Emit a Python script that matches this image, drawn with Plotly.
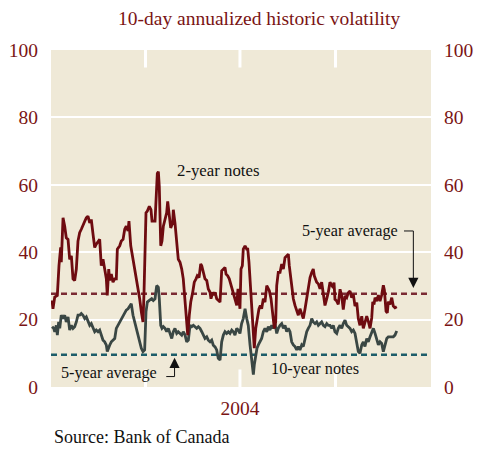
import pandas as pd
import plotly.graph_objects as go

# ---- data (day-of-year offsets in 2004, volatility in %) ----
days_2y = [1.0, 1.9, 3.6, 6.1, 7.7, 9.3, 9.9, 11.6, 13.2, 14.7, 16.4, 18.0, 19.6, 21.2, 22.8, 24.4,
           26.0, 27.6, 29.2, 30.8, 32.5, 34.0, 35.6, 37.3, 38.8, 40.5, 42.1, 43.6, 45.3, 46.9, 48.4,
           50.1, 51.7, 53.3, 54.2, 55.6, 56.5, 58.1, 59.7, 61.4, 62.9, 63.9, 66.2, 67.7, 69.4, 71.0,
           72.5, 74.2, 75.1, 76.8, 79.0, 80.6, 82.2, 83.8, 85.4, 87.0, 88.6, 89.6, 91.5, 92.8, 94.7,
           96.3, 97.3, 100.2, 101.1, 102.4, 103.4, 104.3, 105.7, 106.9, 108.2, 109.8, 111.4, 112.4,
           113.9, 115.3, 117.2, 117.8, 119.4, 121.1, 122.6, 124.3, 125.9, 127.4, 128.4, 129.7, 130.7,
           131.7, 133.2, 134.6, 136.5, 138.0, 139.7, 140.9, 142.6, 144.2, 145.2, 146.7, 148.3, 150.0,
           151.5, 153.2, 154.1, 155.8, 157.0, 158.0, 159.6, 161.1, 162.8, 164.4, 166.0, 167.6, 168.6,
           170.2, 171.7, 173.1, 174.6, 175.6, 177.2, 178.9, 180.1, 182.0, 183.0, 184.3, 185.2, 186.9,
           188.5, 189.5, 190.7, 191.7, 193.3, 194.9, 195.8, 197.2, 199.1, 200.3, 201.6, 202.9, 204.5,
           206.1, 207.8, 209.3, 210.3, 211.9, 213.2, 215.1, 216.4, 217.4, 218.9, 220.6, 222.2, 223.8,
           225.4, 227.0, 228.6, 229.5, 230.5, 231.8, 233.4, 235.0, 236.7, 238.2, 239.8, 241.5, 243.0,
           244.7, 246.3, 247.8, 249.5, 251.1, 252.6, 253.6, 255.0, 255.9, 257.5, 259.1, 260.7, 262.3,
           263.9, 265.6, 267.1, 268.7, 270.4, 271.9, 272.6, 273.5, 275.2, 276.7, 278.4, 280.0, 281.5,
           283.2, 284.8, 286.4, 288.0, 289.6, 291.2, 292.8, 294.5, 296.0, 297.6, 299.3, 300.8, 302.4,
           304.1, 305.6, 307.3, 308.9, 309.9, 311.1, 312.1, 313.7, 315.3, 316.9, 318.5, 320.1, 321.1,
           322.7, 323.9, 324.9, 326.5, 328.2, 329.7, 331.3, 333.0]
vol_2y = [25.7, 23.2, 26.7, 27.2, 36.0, 41.4, 37.0, 50.2, 47.7, 44.3, 43.8, 37.9, 38.9, 32.1, 31.6, 35.0,
          43.3, 45.8, 46.8, 48.2, 49.2, 50.2, 50.7, 48.7, 49.7, 45.3, 41.4, 42.4, 43.3, 43.8, 36.0,
          37.9, 35.0, 32.1, 27.2, 35.0, 31.6, 33.5, 31.1, 32.1, 32.1, 40.9, 41.9, 43.3, 43.8, 46.8,
          47.7, 46.3, 49.2, 41.9, 37.9, 35.0, 32.1, 30.1, 26.2, 22.3, 19.3, 28.1, 51.7, 52.2, 53.6,
          52.6, 49.2, 49.2, 54.6, 63.4, 63.9, 59.5, 41.9, 43.3, 47.7, 49.7, 51.7, 55.1,
          51.7, 47.2, 48.7, 52.6, 48.7, 42.8, 37.9, 37.0, 35.0, 32.1, 28.1, 24.2, 19.3,
          15.4, 21.3, 25.2, 28.1, 31.1, 32.1, 33.0, 32.5, 36.5, 36.0, 34.0, 32.1, 31.6,
          29.1, 28.1, 26.2, 28.1, 27.2, 28.1, 26.2, 25.7, 25.2, 34.5, 35.0, 35.5, 33.5,
          33.0, 32.1, 30.6, 29.1, 28.1, 26.2, 24.2, 29.1, 23.2, 35.0, 36.0, 40.9, 41.9,
          40.9, 40.9, 37.0, 32.1, 24.2, 16.4, 11.5, 17.4, 21.3, 23.2, 24.2, 23.2, 26.2,
          25.2, 30.1, 29.1, 28.6, 26.2, 23.2, 17.4, 19.3, 30.1, 34.0, 34.0, 36.5, 35.0,
          38.4, 38.9, 39.4, 36.0, 33.0, 30.1, 26.2, 24.2, 22.3, 21.3, 23.2, 21.3, 20.3,
          23.2, 26.2, 30.1, 32.5, 34.0, 35.0, 33.0, 32.1, 31.1, 30.6, 29.1, 31.1, 28.1,
          24.2, 26.2, 28.1, 31.1, 30.0, 29.4, 31.0, 26.0, 25.5, 24.5, 29.0, 27.0, 23.0,
          27.0, 26.5, 28.0, 28.5, 26.5, 27.5, 24.0, 25.0, 20.3, 18.3, 21.0, 17.4, 19.5,
          21.0, 19.5, 17.4, 20.5, 25.3, 24.5, 26.5, 25.5, 27.3, 25.5, 27.3, 30.2, 28.8,
          22.5, 22.0, 25.3, 24.5, 26.5, 24.0, 23.5, 23.8]

days_10y = [1.0, 2.6, 3.6, 5.1, 6.1, 7.4, 8.4, 9.9, 11.6, 13.2, 14.7, 16.4, 18.0, 19.6, 21.2, 22.8,
            24.4, 26.0, 27.6, 29.2, 30.8, 32.5, 34.0, 35.6, 37.3, 38.8, 40.5, 42.1, 43.6, 45.3, 46.9,
            48.4, 50.1, 51.7, 53.3, 54.2, 55.6, 56.5, 58.1, 59.7, 61.4, 62.9, 64.5, 66.2, 67.7, 69.4,
            71.0, 72.5, 74.2, 75.8, 77.3, 79.0, 80.6, 82.2, 83.8, 85.4, 87.0, 88.6, 90.2, 91.5, 92.8,
            94.7, 97.0, 98.5, 100.2, 101.8, 103.4, 104.3, 105.7, 106.9, 108.2, 109.8, 111.4, 113.0,
            114.6, 116.3, 117.8, 119.4, 121.1, 122.6, 124.3, 125.9, 127.4, 129.1, 130.7, 132.3, 133.9,
            135.5, 137.1, 138.7, 140.3, 141.9, 143.5, 145.2, 146.7, 148.3, 150.0, 151.5, 153.2, 154.8,
            156.3, 158.0, 159.6, 161.1, 162.8, 164.4, 166.0, 167.6, 169.2, 170.8, 172.4, 174.1, 175.6,
            177.2, 178.9, 180.4, 182.0, 183.6, 185.2, 186.9, 188.5, 190.0, 191.7, 193.3, 194.9, 195.8,
            197.2, 198.4, 199.7, 201.3, 202.9, 204.5, 206.1, 207.8, 209.3, 210.9, 212.6, 214.1, 215.8,
            217.4, 218.9, 220.6, 222.2, 223.8, 225.4, 227.0, 228.6, 230.2, 231.8, 233.4, 235.0, 236.7,
            238.2, 239.8, 241.5, 243.0, 244.7, 246.3, 247.8, 249.5, 251.1, 252.6, 254.3, 255.9, 257.5,
            259.1, 260.7, 262.3, 263.9, 265.6, 267.1, 268.7, 270.4, 271.9, 273.5, 275.2, 276.7, 278.4,
            280.0, 281.5, 283.2, 284.8, 286.4, 288.0, 289.6, 291.2, 292.8, 294.5, 296.0, 297.6, 299.3,
            300.8, 302.4, 304.1, 305.6, 307.3, 308.9, 310.5, 312.1, 313.7, 315.3, 316.9, 318.5, 320.1,
            321.7, 323.4, 324.9, 326.5, 328.2, 329.7, 331.3, 333.0]
vol_10y = [17.9, 17.4, 16.4, 18.3, 15.4, 19.3, 17.4, 21.3, 20.3, 21.3, 19.3, 20.8, 16.9, 18.3, 17.4, 17.9,
           19.3, 21.3, 21.3, 21.8, 21.3, 20.3, 20.8, 19.3, 18.3, 18.8, 17.4, 16.4, 16.9, 16.4, 16.9,
           15.4, 13.9, 13.4, 12.4, 10.5, 11.9, 12.4, 13.4, 13.9, 14.4, 17.4, 18.3, 19.3, 20.3, 21.3,
           22.3, 22.8, 23.2, 24.2, 24.7, 21.3, 19.3, 17.4, 15.4, 13.9, 11.5, 10.5, 11.0, 22.3, 25.2,
           25.7, 26.2, 25.7, 26.2, 30.1, 29.6, 26.2, 18.3, 17.4, 17.9, 17.4, 16.4, 17.4,
           15.9, 14.4, 16.4, 17.4, 15.9, 16.4, 15.9, 15.4, 16.4, 15.4, 13.4, 13.9, 18.3,
           17.9, 18.3, 17.9, 17.4, 17.9, 17.4, 16.4, 15.4, 14.4, 14.9, 13.9, 13.4, 13.9,
           12.4, 11.9, 11.0, 8.5, 8.0, 13.4, 15.4, 16.4, 15.9, 16.4, 15.9, 16.9, 16.4,
           15.4, 17.4, 16.9, 15.9, 18.8, 20.3, 23.2, 20.3, 18.3, 12.5, 8.5, 3.7, 6.6,
           9.5, 11.5, 12.5, 13.4, 14.4, 16.4, 17.4, 16.4, 17.9, 16.9, 18.3, 17.4, 18.8,
           15.9, 17.4, 18.3, 18.8, 17.4, 18.3, 16.4, 17.4, 16.4, 13.4, 12.5, 12.0, 11.0,
           12.0, 11.0, 12.5, 12.0, 14.4, 16.4, 17.4, 18.3, 20.3, 19.3, 18.8, 19.3, 18.3,
           18.8, 19.3, 18.3, 17.9, 18.8, 18.3, 18.3, 17.4, 18.3, 16.4, 15.9, 17.4, 18.3,
           17.4, 18.8, 19.8, 18.3, 17.9, 17.4, 16.4, 16.9, 15.9, 13.4, 10.5, 10.0, 12.5,
           13.4, 12.0, 14.4, 13.4, 14.9, 16.4, 17.4, 15.9, 13.9, 12.5, 13.4, 12.9, 10.5,
           12.5, 14.4, 14.9, 14.9, 14.9, 14.9, 15.4, 16.6]

avg_2y = 27.7
avg_10y = 9.6
y_ticks = [0, 20, 40, 60, 80, 100]
quarter_starts = ["2004-04-01", "2004-07-01", "2004-10-01"]

base = pd.Timestamp("2004-01-01")
x2 = base + pd.to_timedelta(days_2y, unit="D")
x10 = base + pd.to_timedelta(days_10y, unit="D")

RED = "#6e0b10"
GREY = "#3a4744"
TICK_RED = "#7a1414"
BG = "#efe9d7"
TXT = "#111111"
FONT = "Liberation Serif"

fig = go.Figure()
x_lo, x_hi = "2004-01-01", "2005-01-01"

# 5-year average dashed lines
fig.add_trace(go.Scatter(x=[x_lo, x_hi], y=[avg_2y, avg_2y], mode="lines",
                         line=dict(color="#7a2a33", width=2.5, dash="6px,4px"),
                         hoverinfo="skip", showlegend=False))
fig.add_trace(go.Scatter(x=[x_lo, x_hi], y=[avg_10y, avg_10y], mode="lines",
                         line=dict(color="#1d5d69", width=2.5, dash="6px,4px"),
                         hoverinfo="skip", showlegend=False))
# series
fig.add_trace(go.Scatter(x=x10, y=vol_10y, mode="lines", name="10-year notes",
                         line=dict(color=GREY, width=2.8), showlegend=False))
fig.add_trace(go.Scatter(x=x2, y=vol_2y, mode="lines", name="2-year notes",
                         line=dict(color=RED, width=2.8), showlegend=False))
# dummy for right axis
fig.add_trace(go.Scatter(x=[x_lo], y=[0], yaxis="y2", mode="markers",
                         marker=dict(opacity=0), hoverinfo="skip", showlegend=False))

shapes = []
for q in quarter_starts:
    shapes.append(dict(type="line", xref="x", yref="y", x0=q, x1=q, y0=100, y1=94.8,
                       line=dict(color="white", width=3), layer="above"))
    shapes.append(dict(type="line", xref="x", yref="y", x0=q, x1=q, y0=0, y1=5.2,
                       line=dict(color="white", width=3), layer="below"))

annotations = [
    dict(text="10-day annualized historic volatility", xref="paper", yref="paper",
         x=0.547, y=1.0, yshift=31.5, xanchor="center", yanchor="middle", showarrow=False,
         font=dict(family=FONT, size=19.5, color=TICK_RED)),
    dict(text="Source: Bank of Canada", xref="paper", yref="paper", x=0.003, y=0.0,
         yshift=-49.5, xanchor="left", yanchor="middle", showarrow=False,
         font=dict(family=FONT, size=18, color=TXT)),
    dict(text="2-year notes", xref="x", yref="y", x="2004-04-29", y=64.3,
         xanchor="left", yanchor="middle", showarrow=False,
         font=dict(family=FONT, size=16.8, color=TXT)),
    dict(text="10-year notes", xref="x", yref="y", x="2004-07-29", y=5.5,
         xanchor="left", yanchor="middle", showarrow=False,
         font=dict(family=FONT, size=16.3, color=TXT)),
    dict(text="5-year average", xref="x", yref="y", x="2004-12-02", y=46.3,
         xanchor="right", yanchor="middle", showarrow=False,
         font=dict(family=FONT, size=16.2, color=TXT)),
    dict(text="5-year average", xref="x", yref="y", x="2004-04-14", y=4.3,
         xanchor="right", yanchor="middle", showarrow=False,
         font=dict(family=FONT, size=16.2, color=TXT)),
]

# connector lines for the 5-year average labels
shapes += [
    dict(type="line", xref="x", yref="y", x0="2004-12-06", x1="2004-12-15", y0=46.3, y1=46.3,
         line=dict(color=TXT, width=1)),
    dict(type="line", xref="x", yref="y", x0="2004-12-15", x1="2004-12-15", y0=46.3, y1=31.5,
         line=dict(color=TXT, width=1)),
    dict(type="line", xref="x", yref="y", x0="2004-04-21", x1="2004-04-29", y0=3.1, y1=3.1,
         line=dict(color=TXT, width=1)),
    dict(type="line", xref="x", yref="y", x0="2004-04-29", x1="2004-04-29", y0=3.1, y1=6.3,
         line=dict(color=TXT, width=1)),
]
# arrowheads
annotations += [
    dict(x="2004-12-15", y=29.4, ax=0, ay=-10, xref="x", yref="y", axref="pixel", ayref="pixel",
         text="", showarrow=True, arrowhead=2, arrowsize=1.7, arrowwidth=1.2, arrowcolor=TXT),
    dict(x="2004-04-29", y=8.7, ax=0, ay=9, xref="x", yref="y", axref="pixel", ayref="pixel",
         text="", showarrow=True, arrowhead=2, arrowsize=1.7, arrowwidth=1.2, arrowcolor=TXT),
]

tickfont = dict(family=FONT, size=19.5, color=TICK_RED)
fig.update_layout(
    width=477, height=458,
    margin=dict(l=51, r=46, t=49.5, b=70.5, autoexpand=False),
    paper_bgcolor="white", plot_bgcolor=BG,
    showlegend=False,
    xaxis=dict(type="date", range=[x_lo, x_hi], showgrid=False, zeroline=False,
               tickmode="array", tickvals=["2004-07-01"], ticktext=["2004"],
               ticks="outside", ticklen=4, tickcolor="rgba(0,0,0,0)",
               tickfont=tickfont, showline=False, automargin=False),
    yaxis=dict(range=[0, 100], tickmode="array", tickvals=y_ticks,
               showgrid=True, gridcolor="white", gridwidth=2, zeroline=False,
               ticks="outside", ticklen=8, tickcolor="rgba(0,0,0,0)",
               tickfont=tickfont, showline=False, automargin=False),
    yaxis2=dict(range=[0, 100], overlaying="y", side="right", tickmode="array",
                tickvals=y_ticks, showgrid=False, zeroline=False,
                ticks="outside", ticklen=8, tickcolor="rgba(0,0,0,0)",
                tickfont=tickfont, showline=False, automargin=False),
    shapes=shapes,
    annotations=annotations,
)

fig.write_html("out.html", config={"displayModeBar": False},
               post_script="document.body.style.margin='0';document.body.style.overflow='hidden';")
